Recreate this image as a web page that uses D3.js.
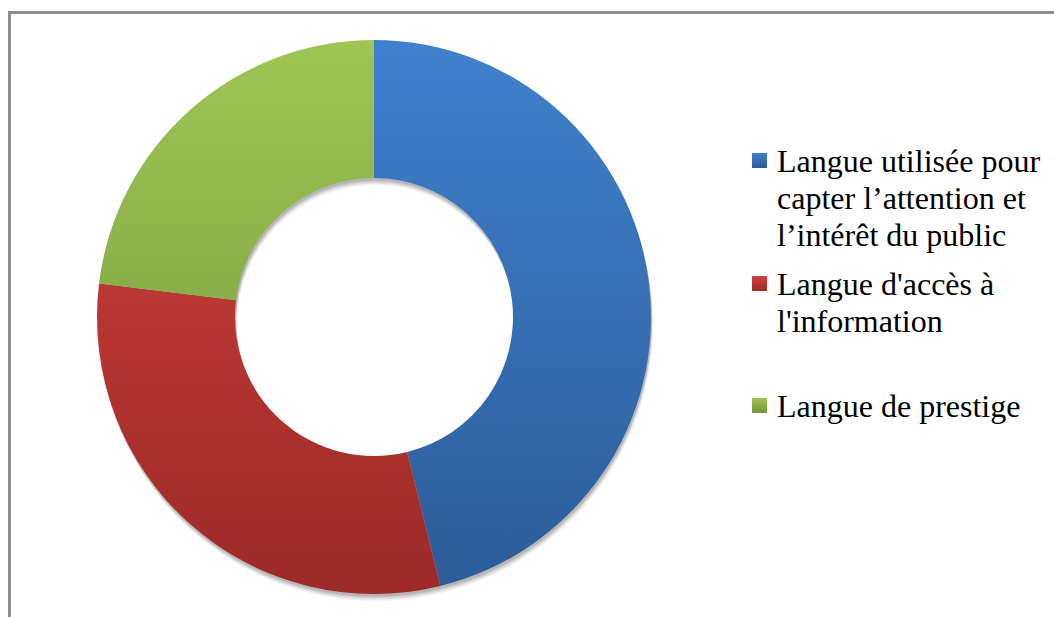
<!DOCTYPE html>
<html>
<head>
<meta charset="utf-8">
<script src="https://cdn.jsdelivr.net/npm/d3@7"></script>
</head>
<body style="margin:0">
<svg id="chart" width="1054" height="617"></svg>
<script>
// Usage categories of the language and their response counts
const categories = [
  ["Langue utilisée pour", "capter l\u2019attention et", "l\u2019intérêt du public"],
  ["Langue d'accès à", "l'information"],
  ["Langue de prestige"]
];
const values = [6, 4, 3];
const topColors = ["#4081ce", "#d3423e", "#9ec654"];
const bottomColors = ["#2c5c97", "#9c2a27", "#73923a"];

const svg = d3.select("#chart");
const W = 1054, H = 617;

// Legend text first, one text element per line
const legendX = 752, textX = 777, lineH = 37;
const firstBaselines = [172, 295, 417];
const legend = svg.append("g");
categories.forEach((lines, i) => {
  lines.forEach((ln, j) => {
    legend.append("text")
      .attr("x", textX).attr("y", firstBaselines[i] + j * lineH)
      .style("font-family", '"Liberation Serif"')
      .style("font-size", "32px")
      .text(ln);
  });
});

// Chart frame
svg.insert("rect", ":first-child")
  .attr("x", 9.5).attr("y", 12.5)
  .attr("width", W + 20).attr("height", H + 20)
  .attr("fill", "none")
  .attr("stroke", "#8c8c8c")
  .attr("stroke-width", 3);

const cx = 374, cy = 317, R = 277, r = 139;

const defs = svg.append("defs");
values.forEach((v, i) => {
  const g = defs.append("linearGradient").attr("id", "grad" + i)
    .attr("gradientUnits", "userSpaceOnUse")
    .attr("x1", 0).attr("y1", -R).attr("x2", 0).attr("y2", R);
  g.append("stop").attr("offset", 0).attr("stop-color", topColors[i]);
  g.append("stop").attr("offset", 1).attr("stop-color", bottomColors[i]);
  const lg = defs.append("linearGradient").attr("id", "lgrad" + i)
    .attr("x1", 0).attr("y1", 0).attr("x2", 0).attr("y2", 1);
  lg.append("stop").attr("offset", 0).attr("stop-color", topColors[i]);
  lg.append("stop").attr("offset", 1).attr("stop-color", bottomColors[i]);
});

// Legend swatches
values.forEach((v, i) => {
  legend.append("rect")
    .attr("x", legendX).attr("y", firstBaselines[i] - 19)
    .attr("width", 15).attr("height", 15)
    .attr("fill", `url(#lgrad${i})`);
});

const pie = d3.pie().sort(null).value(d => d);
const arcs = pie(values);
const donut = svg.append("g").attr("transform", `translate(${cx},${cy})`);

// Soft shadow: stacked translucent rings offset downward
const ring = d3.arc().innerRadius(r).outerRadius(R).startAngle(0).endAngle(2 * Math.PI);
[[2, 7, 0.05], [1.5, 5.5, 0.07], [1, 4, 0.09], [1, 2.5, 0.1]].forEach(([dx, dy, o]) => {
  donut.append("path")
    .attr("d", ring())
    .attr("transform", `translate(${dx},${dy})`)
    .attr("fill", "#000").attr("fill-opacity", o);
});

donut.selectAll("path.slice")
  .data(arcs)
  .join("path")
  .attr("class", "slice")
  .attr("d", d3.arc().innerRadius(r).outerRadius(R))
  .attr("fill", (d, i) => `url(#grad${i})`);
</script>
</body>
</html>
